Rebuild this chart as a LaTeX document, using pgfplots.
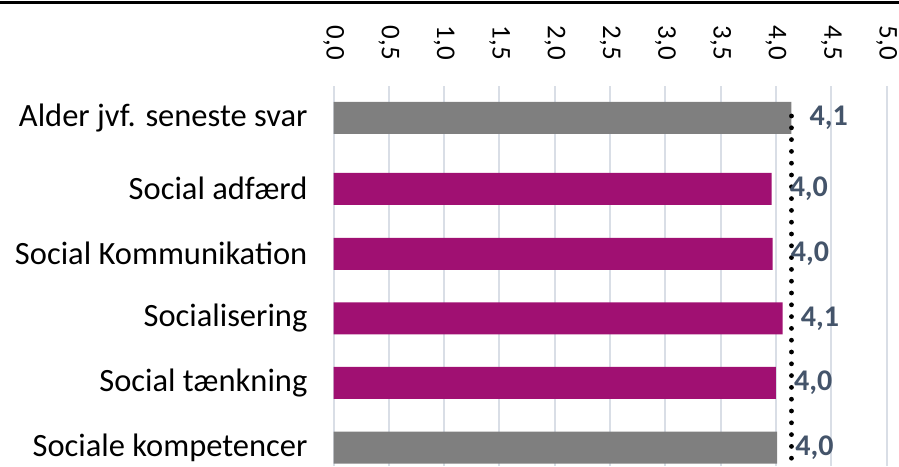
\documentclass[border=0pt]{standalone}
\usepackage{pgfplots}
\pgfplotsset{compat=1.18}
\usepackage{fontspec}
\setmainfont{Carlito}
\definecolor{barmag}{RGB}{160,16,114}
\definecolor{bargray}{RGB}{127,127,127}
\definecolor{gridc}{RGB}{217,222,230}
\definecolor{lblc}{RGB}{68,84,106}
\begin{document}
\begin{tikzpicture}
\begin{axis}[
  scale only axis,
  width=553pt, height=380pt,
  xmin=0, xmax=5, ymin=0, ymax=380,
  xbar, bar width=32, bar shift=0pt,
  axis line style={draw=none},
  major tick length=0pt,
  xtick={0,0.5,...,5},
  xticklabel pos=upper,
  xmajorgrids,
  grid style={gridc, line width=2pt},
  ytick={348,277.2,212.2,147.7,83.2,18.5},
  yticklabels={Alder jvf. seneste svar,Social adfærd,Social Kommunikation,Socialisering,Social tænkning,Sociale kompetencer},
  yticklabel style={font=\fontsize{32.5}{38}\selectfont, anchor=east, inner sep=0pt, xshift=-26pt},
  xticklabel style={font=\fontsize{27}{32}\selectfont, yshift=26pt, rotate=-90, anchor=east, inner sep=0pt,
    /pgf/number format/.cd, use comma, fixed, fixed zerofill, precision=1, assume math mode=true},
  nodes near coords,
  point meta=x,
  every node near coord/.append style={font=\fontsize{30}{35}\selectfont\bfseries, text=lblc, anchor=west, inner sep=0pt, xshift=18pt,
    /pgf/number format/.cd, use comma, fixed, fixed zerofill, precision=1, assume math mode=true},
  clip=false,
]
\addplot[draw=none, fill=bargray] coordinates {(4.14,348) (4.01,18.5)};
\addplot[draw=none, fill=barmag] coordinates {(3.96,277.2) (3.97,212.2) (4.06,147.7) (4.00,83.2)};
\addplot[sharp plot, nodes near coords={}, black, line width=4.8pt, line cap=round, dash pattern=on 0pt off 11.8pt] coordinates {(4.14,350) (4.14,2)};
\end{axis}
\pgfresetboundingbox
\path[use as bounding box] (-333.6pt,0pt) rectangle (565.4pt,466pt);
\draw[line width=3pt] (-333.6pt,463.5pt) -- (565.4pt,463.5pt);
\end{tikzpicture}
\end{document}
